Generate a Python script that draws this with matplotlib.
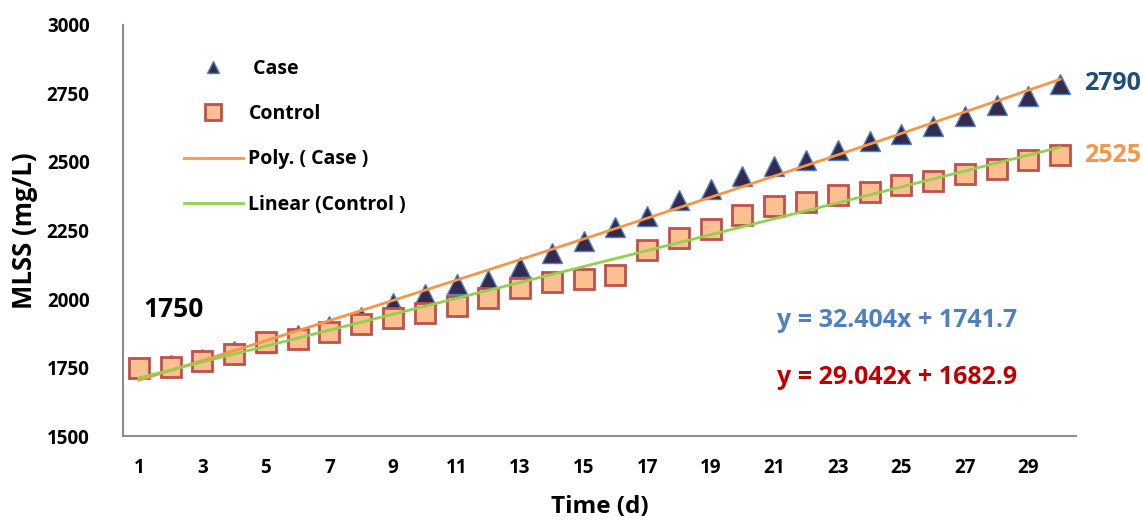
import numpy as np
import matplotlib
matplotlib.use('Agg')
import matplotlib.pyplot as plt
from matplotlib.lines import Line2D

plt.rcParams['font.family'] = ['Open Sans', 'DejaVu Sans']
plt.rcParams['font.weight'] = 'bold'

days = np.arange(1, 31)
case = [1750, 1760, 1780, 1810, 1840, 1870, 1900, 1935, 1985, 2017,
        2053, 2071, 2115, 2168, 2210, 2264, 2303, 2361, 2401, 2449,
        2486, 2506, 2545, 2578, 2602, 2633, 2669, 2708, 2742, 2785]
control = [1750, 1752, 1775, 1800, 1844, 1854, 1878, 1908, 1932, 1948,
           1975, 2005, 2040, 2063, 2074, 2087, 2178, 2222, 2256, 2307,
           2341, 2355, 2381, 2390, 2416, 2431, 2455, 2476, 2506, 2525]
ctrl_slope, ctrl_icpt = 29.042, 1682.9
xticks = list(range(1, 30, 2))
yticks = [1500, 1750, 2000, 2250, 2500, 2750, 3000]

fig = plt.figure(figsize=(11.43, 5.21), dpi=100)
ax = fig.add_axes([0.1076, 0.1631, 0.8338, 0.789])

ax.plot(days, case, linestyle='none', marker='^', ms=15, mfc='#332a4e',
        mec='#4f81bd', mew=1, zorder=3)
ax.plot(days, control, linestyle='none', marker='s', ms=15, mfc='#fac090',
        mec='#c0504d', mew=2, zorder=4)

# trend lines
xf = np.linspace(1, 30, 100)
p = np.polyfit(days, case, 2)
ax.plot(xf, np.polyval(p, xf), color='#f79646', lw=2, zorder=5)
ax.plot(xf, ctrl_slope * xf + ctrl_icpt, color='#92d050', lw=2, zorder=5)

ax.set_xlim(0.5, 30.5)
ax.set_ylim(1500, 3000)
ax.set_xticks(xticks)
ax.set_yticks(yticks)
ax.tick_params(length=0, labelsize=13.5)
ax.tick_params(axis='x', pad=16)
ax.tick_params(axis='y', pad=24)
for s in ['top', 'right']:
    ax.spines[s].set_visible(False)
for s in ['left', 'bottom']:
    ax.spines[s].set_color('#8c8c8c')
    ax.spines[s].set_linewidth(1.5)

ax.set_xlabel('Time (d)', fontsize=17.5, fontweight='bold', labelpad=12)
ax.set_ylabel('MLSS (mg/L)', fontsize=18.5, fontweight='bold', labelpad=6)

ax.text(1.15, 1960, '1750', fontsize=19, fontweight='bold', color='black', va='center')
ax.text(30.75, case[-1], '2790', fontsize=18, fontweight='bold', color='#1f4e79', va='center')
ax.text(30.75, control[-1], '2525', fontsize=18, fontweight='bold', color='#f79646', va='center')
ax.text(21.1, 1923, 'y = 32.404x + 1741.7', fontsize=18, fontweight='bold', color='#4f81bd', va='center')
ax.text(21.1, 1715, 'y = 29.042x + 1682.9', fontsize=18, fontweight='bold', color='#c00000', va='center')

handles = [
    Line2D([], [], linestyle='none', marker='^', ms=9, mfc='#332a4e', mec='#4f81bd', mew=1),
    Line2D([], [], linestyle='none', marker='s', ms=11, mfc='#fac090', mec='#c0504d', mew=2),
    Line2D([], [], color='#f79646', lw=2),
    Line2D([], [], color='#92d050', lw=2),
]
labels = [' Case', 'Control', 'Poly. ( Case )', 'Linear (Control )']
ax.legend(handles, labels, loc='upper left', bbox_to_anchor=(0.046, 0.96), frameon=False,
          labelspacing=1.3, handlelength=3.0, handletextpad=0.3,
          prop={'weight': 'bold', 'size': 14})

fig.savefig('out.png', dpi=100)
